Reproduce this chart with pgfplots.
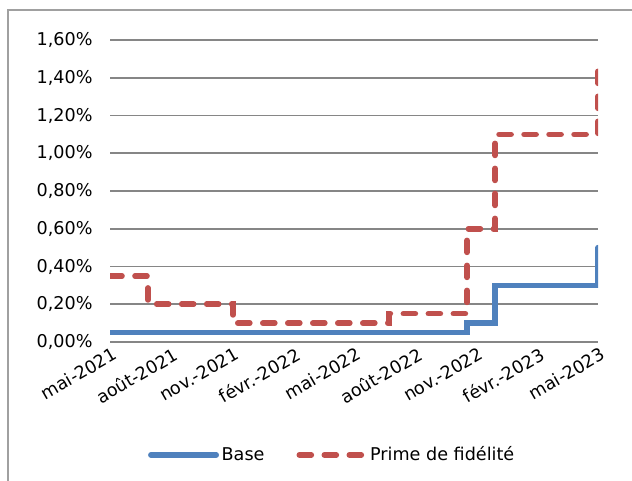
\documentclass[border=0pt]{standalone}
\usepackage{fontspec}
\setmainfont{DejaVu Sans}
\usepackage{pgfplots}
\pgfplotsset{compat=1.18}
\definecolor{cblue}{RGB}{79,129,189}
\definecolor{cred}{RGB}{192,80,77}
\definecolor{cgrid}{RGB}{134,134,134}
\definecolor{cframe}{RGB}{160,160,160}
\begin{document}
\fontsize{13.2}{15}\selectfont
\begin{tikzpicture}[x=1pt,y=1pt]
\useasboundingbox (0,0) rectangle (474,-360.75);
\draw[line width=1.2pt, cframe] (6,-7.5) rectangle (495,-380);
\begin{axis}[
  at={(82.5pt,-256.5pt)}, anchor=south west,
  scale only axis, width=366pt, height=226.5pt,
  xmin=0, xmax=24, ymin=0, ymax=1.6,
  axis line style={draw=none},
  tick style={draw=none},
  ymajorgrids, grid style={cgrid, line width=1.4pt},
  ytick={0,0.2,0.4,0.6,0.8,1.0,1.2,1.4,1.6},
  yticklabels={{0,00\%},{0,20\%},{0,40\%},{0,60\%},{0,80\%},{1,00\%},{1,20\%},{1,40\%},{1,60\%}},
  xtick={0,3,6,9,12,15,18,21,24},
  xticklabels={mai-2021,août-2021,nov.-2021,févr.-2022,mai-2022,août-2022,nov.-2022,févr.-2023,mai-2023},
  xticklabel style={rotate=30, anchor=north east, inner sep=0.5pt, yshift=-3pt, font=\fontsize{13.2}{15}\selectfont},
  yticklabel style={font=\fontsize{13.2}{15}\selectfont, xshift=-8.5pt},
  legend columns=2,
  legend style={at={(0.456,-0.374)}, anchor=center, draw=none, fill=none,
    font=\fontsize{13.2}{15}\selectfont,
    /tikz/every even column/.append style={column sep=22pt}},
  legend image code/.code={\draw[#1] (0pt,0pt) -- (49pt,0pt);},
]
\addplot[const plot, cblue, line width=4.2pt, line cap=round] coordinates {
  (0,0.05) (17.56,0.10) (18.94,0.30) (24,0.50)
};
\addlegendentry{Base}
\addplot[const plot, cred, line width=4.2pt, line cap=round, dash pattern=on 9pt off 9.75pt] coordinates {
  (0,0.35) (1.87,0.20) (6.05,0.10) (13.72,0.15) (17.56,0.60) (18.94,1.10) (24,1.50)
};
\addlegendentry{Prime de fidélité}
\end{axis}
\end{tikzpicture}
\end{document}
